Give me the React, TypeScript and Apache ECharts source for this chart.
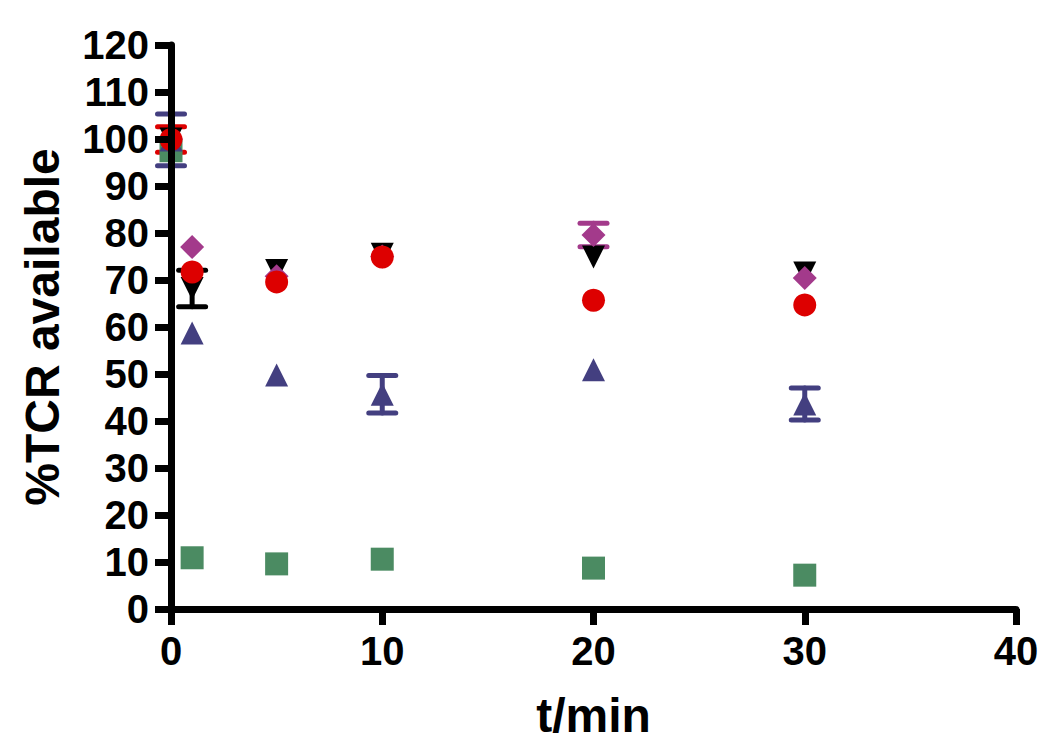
import React, { useEffect, useRef } from 'react';
import * as echarts from 'echarts';

// time points (min)
const times = [0, 1, 5, 10, 20, 30];

// %TCR available per condition
const greenSquare = [97.5, 10.9, 9.6, 10.6, 8.7, 7.2];
const greenErr = [0, 0, 0, 0, 0, 0];
const blueTriangle = [99.8, 58.7, 49.8, 45.7, 50.9, 43.6];
const blueErr = [5.5, 0, 0, 4.0, 0, 3.4];
const blackTriangleDown = [100, 68.2, 72.0, 75.5, 74.9, 71.5];
const blackErr = [0, 3.9, 0, 0, 0, 0];
const purpleDiamond = [100, 77.0, 70.8, 75.0, 79.6, 70.4];
const purpleErr = [0, 0, 0, 0, 2.5, 0];
const redCircle = [99.9, 71.7, 69.6, 74.9, 65.7, 64.7];
const redErr = [2.7, 0, 0, 0, 0, 0];

const xMin = 0, xMax = 40, xStep = 10;
const yMin = 0, yMax = 120, yStep = 10;

const FONT = '"Liberation Sans", Arial, sans-serif';

type SeriesDef = {
  name: string;
  values: number[];
  errs: number[];
  color: string;
  symbol: string;
  size: number;
  rotate?: number;
};

const defs: SeriesDef[] = [
  { name: 'green', values: greenSquare, errs: greenErr, color: '#4b8b62', symbol: 'rect', size: 23 },
  { name: 'blue', values: blueTriangle, errs: blueErr, color: '#433f80', symbol: 'triangle', size: 23 },
  { name: 'black', values: blackTriangleDown, errs: blackErr, color: '#000000', symbol: 'triangle', size: 23, rotate: 180 },
  { name: 'purple', values: purpleDiamond, errs: purpleErr, color: '#a33a8b', symbol: 'diamond', size: 24 },
  { name: 'red', values: redCircle, errs: redErr, color: '#dd0000', symbol: 'circle', size: 23 },
];

function buildSeries() {
  const out: any[] = [];
  defs.forEach((d) => {
    const color = d.color;
    out.push({
      type: 'custom',
      name: d.name + '-err',
      data: times.map((t, i) => [t, d.values[i], d.errs[i]]),
      encode: { x: 0, y: 1 },
      clip: false,
      silent: true,
      renderItem: (params: any, api: any) => {
        const x = api.value(0);
        const y = api.value(1);
        const e = api.value(2);
        if (!e) return { type: 'group', children: [] };
        const top = api.coord([x, y + e]);
        const bot = api.coord([x, y - e]);
        const hw = 13.5;
        const style = { stroke: color, lineWidth: 5, lineCap: 'round', fill: 'none' };
        return {
          type: 'group',
          children: [
            { type: 'line', shape: { x1: top[0], y1: top[1], x2: bot[0], y2: bot[1] }, style },
            { type: 'line', shape: { x1: top[0] - hw, y1: top[1], x2: top[0] + hw, y2: top[1] }, style },
            { type: 'line', shape: { x1: bot[0] - hw, y1: bot[1], x2: bot[0] + hw, y2: bot[1] }, style },
          ],
        };
      },
    });
    out.push({
      type: 'scatter',
      name: d.name,
      data: times.map((t, i) => [t, d.values[i]]),
      symbol: d.symbol,
      symbolSize: d.size,
      symbolRotate: d.rotate || 0,
      itemStyle: { color, opacity: 1 },
      clip: false,
      silent: true,
    });
  });
  return out;
}

export default function App() {
  const ref = useRef<HTMLDivElement>(null);
  useEffect(() => {
    document.body.style.margin = '0';
    if (!ref.current) return;
    const chart = echarts.init(ref.current, null, { renderer: 'svg' });
    const axisCommon = {
      type: 'value',
      z: 10,
      splitLine: { show: false },
      axisLine: { show: true, onZero: false, lineStyle: { color: '#000', width: 7 } },
      axisTick: { show: true, inside: false, length: 16, lineStyle: { color: '#000', width: 7 } },
    };
    chart.setOption({
      animation: false,
      backgroundColor: '#ffffff',
      grid: { left: 171, right: 34, top: 45, bottom: 139, containLabel: false, outerBoundsMode: 'none' },
      xAxis: {
        ...axisCommon,
        min: xMin,
        max: xMax,
        interval: xStep,
        axisLabel: { fontSize: 40, fontWeight: 'bold', color: '#000', fontFamily: FONT, margin: 22 },
        name: 't/min',
        nameLocation: 'middle',
        nameGap: 82,
        nameTextStyle: { fontSize: 48, fontWeight: 'bold', color: '#000', fontFamily: FONT },
      },
      yAxis: {
        ...axisCommon,
        min: yMin,
        max: yMax,
        interval: yStep,
        axisLabel: { fontSize: 40, fontWeight: 'bold', color: '#000', fontFamily: FONT, margin: 22 },
        name: '%TCR available',
        nameLocation: 'middle',
        nameGap: 105,
        nameTextStyle: { fontSize: 48, fontWeight: 'bold', color: '#000', fontFamily: FONT },
      },
      series: buildSeries(),
    });
    return () => chart.dispose();
  }, []);
  return <div ref={ref} style={{ width: 1050, height: 748 }} />;
}
